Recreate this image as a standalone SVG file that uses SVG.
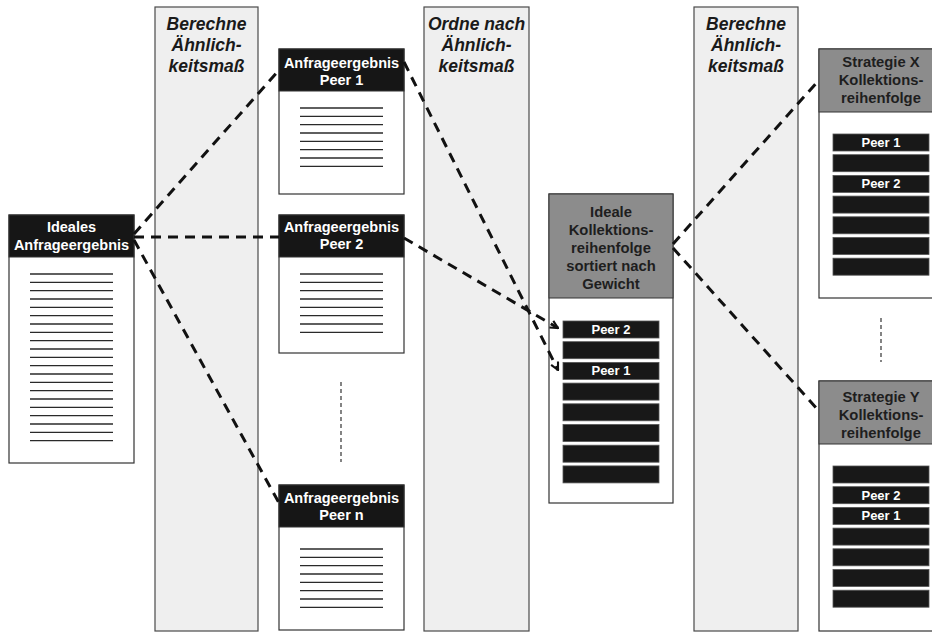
<svg xmlns="http://www.w3.org/2000/svg" width="932" height="633" viewBox="0 0 932 633">
<style>
.col{fill:#efefef;stroke:#4a4a4a;stroke-width:1.2}
.coltxt{font-family:"Liberation Sans",Arial,sans-serif;font-weight:bold;font-style:italic;font-size:17.5px;fill:#1a1a1a;text-anchor:middle}
.box{fill:#fff;stroke:#333;stroke-width:1.2}
.hdr{fill:#161616;stroke:#333;stroke-width:1}
.ghdr{fill:#8c8c8c;stroke:#333;stroke-width:1}
.htxt{font-family:"Liberation Sans",Arial,sans-serif;font-weight:bold;font-size:14.5px;fill:#fff;text-anchor:middle}
.gtxt{font-family:"Liberation Sans",Arial,sans-serif;font-weight:bold;font-size:14.8px;fill:#1e1e1e;text-anchor:middle}
.ln{stroke:#2a2a2a;stroke-width:1.3}
.bar{fill:#181818;stroke:#555;stroke-width:0.8}
.btxt{font-family:"Liberation Sans",Arial,sans-serif;font-weight:bold;font-size:13px;fill:#fff;text-anchor:middle}
.conn{fill:none;stroke:#111;stroke-width:3;stroke-dasharray:10 7}
.dot{stroke:#333;stroke-width:1.2;stroke-dasharray:4 3}
</style>
<defs>
<marker id="arr" viewBox="0 0 10 10" refX="9" refY="5" markerWidth="3.2" markerHeight="3.2" orient="auto" markerUnits="strokeWidth">
<path d="M1,1 L9,5 L1,9" fill="none" stroke="#111" stroke-width="2.2"/>
</marker>
<g id="lines8">
<line class="ln" x1="0" y1="0" x2="83" y2="0"/>
<line class="ln" x1="0" y1="8.33" x2="83" y2="8.33"/>
<line class="ln" x1="0" y1="16.67" x2="83" y2="16.67"/>
<line class="ln" x1="0" y1="25" x2="83" y2="25"/>
<line class="ln" x1="0" y1="33.33" x2="83" y2="33.33"/>
<line class="ln" x1="0" y1="41.67" x2="83" y2="41.67"/>
<line class="ln" x1="0" y1="50" x2="83" y2="50"/>
<line class="ln" x1="0" y1="58.33" x2="83" y2="58.33"/>
</g>
</defs>
<rect width="932" height="633" fill="#fff"/>

<g id="col1">
<rect class="col" x="155" y="7" width="103" height="624"/>
<text class="coltxt" x="206.5" y="30">Berechne</text>
<text class="coltxt" x="206.5" y="51">Ähnlich-</text>
<text class="coltxt" x="206.5" y="72">keitsmaß</text>
</g>
<g id="col2">
<rect class="col" x="424" y="7" width="105" height="624"/>
<text class="coltxt" x="476.5" y="30">Ordne nach</text>
<text class="coltxt" x="476.5" y="51">Ähnlich-</text>
<text class="coltxt" x="476.5" y="72">keitsmaß</text>
</g>
<g id="col3">
<rect class="col" x="694" y="7" width="104" height="624"/>
<text class="coltxt" x="746" y="30">Berechne</text>
<text class="coltxt" x="746" y="51">Ähnlich-</text>
<text class="coltxt" x="746" y="72">keitsmaß</text>
</g>

<g id="ideal">
<rect class="box" x="9" y="215" width="125" height="248"/>
<rect class="hdr" x="9" y="215" width="125" height="42"/>
<text class="htxt" x="71.5" y="232">Ideales</text>
<text class="htxt" x="71.5" y="250">Anfrageergebnis</text>
<g class="ln">
<line x1="30" y1="274" x2="113" y2="274"/><line x1="30" y1="282.33" x2="113" y2="282.33"/>
<line x1="30" y1="290.67" x2="113" y2="290.67"/><line x1="30" y1="299" x2="113" y2="299"/>
<line x1="30" y1="307.33" x2="113" y2="307.33"/><line x1="30" y1="315.67" x2="113" y2="315.67"/>
<line x1="30" y1="324" x2="113" y2="324"/><line x1="30" y1="332.33" x2="113" y2="332.33"/>
<line x1="30" y1="340.67" x2="113" y2="340.67"/><line x1="30" y1="349" x2="113" y2="349"/>
<line x1="30" y1="357.33" x2="113" y2="357.33"/><line x1="30" y1="365.67" x2="113" y2="365.67"/>
<line x1="30" y1="374" x2="113" y2="374"/><line x1="30" y1="382.33" x2="113" y2="382.33"/>
<line x1="30" y1="390.67" x2="113" y2="390.67"/><line x1="30" y1="399" x2="113" y2="399"/>
<line x1="30" y1="407.33" x2="113" y2="407.33"/><line x1="30" y1="415.67" x2="113" y2="415.67"/>
<line x1="30" y1="424" x2="113" y2="424"/><line x1="30" y1="432.33" x2="113" y2="432.33"/>
<line x1="30" y1="440.67" x2="113" y2="440.67"/>
</g>
</g>

<g id="peer1">
<rect class="box" x="279" y="49" width="125" height="145"/>
<rect class="hdr" x="279" y="49" width="125" height="42"/>
<text class="htxt" x="341.5" y="68">Anfrageergebnis</text>
<text class="htxt" x="341.5" y="85">Peer 1</text>
<use href="#lines8" x="300" y="108"/>
</g>
<g id="peer2">
<rect class="box" x="279" y="215" width="125" height="138"/>
<rect class="hdr" x="279" y="215" width="125" height="42"/>
<text class="htxt" x="341.5" y="232">Anfrageergebnis</text>
<text class="htxt" x="341.5" y="249">Peer 2</text>
<use href="#lines8" x="300" y="274"/>
</g>
<g id="peern">
<rect class="box" x="279" y="485" width="125" height="145"/>
<rect class="hdr" x="279" y="485" width="125" height="42"/>
<text class="htxt" x="341.5" y="503">Anfrageergebnis</text>
<text class="htxt" x="341.5" y="520">Peer n</text>
<use href="#lines8" x="300" y="549"/>
</g>

<g id="ideal_order">
<rect class="box" x="549" y="194" width="124" height="309"/>
<rect class="ghdr" x="549" y="194" width="124" height="104"/>
<text class="gtxt" x="611" y="217">Ideale</text>
<text class="gtxt" x="611" y="235">Kollektions-</text>
<text class="gtxt" x="611" y="253">reihenfolge</text>
<text class="gtxt" x="611" y="271">sortiert nach</text>
<text class="gtxt" x="611" y="289">Gewicht</text>
<rect class="bar" x="563" y="321" width="96" height="17"/>
<rect class="bar" x="563" y="341.7" width="96" height="17"/>
<rect class="bar" x="563" y="362.4" width="96" height="17"/>
<rect class="bar" x="563" y="383.1" width="96" height="17"/>
<rect class="bar" x="563" y="403.8" width="96" height="17"/>
<rect class="bar" x="563" y="424.5" width="96" height="17"/>
<rect class="bar" x="563" y="445.2" width="96" height="17"/>
<rect class="bar" x="563" y="465.9" width="96" height="17"/>
<text class="btxt" x="611" y="334">Peer 2</text>
<text class="btxt" x="611" y="375.4">Peer 1</text>
</g>

<g id="strategyX">
<rect class="box" x="819" y="49" width="124" height="249"/>
<rect class="ghdr" x="819" y="49" width="124" height="63"/>
<text class="gtxt" x="881" y="67">Strategie X</text>
<text class="gtxt" x="881" y="85">Kollektions-</text>
<text class="gtxt" x="881" y="103">reihenfolge</text>
<rect class="bar" x="833" y="134" width="96" height="17"/>
<rect class="bar" x="833" y="154.7" width="96" height="17"/>
<rect class="bar" x="833" y="175.4" width="96" height="17"/>
<rect class="bar" x="833" y="196.1" width="96" height="17"/>
<rect class="bar" x="833" y="216.8" width="96" height="17"/>
<rect class="bar" x="833" y="237.5" width="96" height="17"/>
<rect class="bar" x="833" y="258.2" width="96" height="17"/>
<text class="btxt" x="881" y="147">Peer 1</text>
<text class="btxt" x="881" y="188.4">Peer 2</text>
</g>

<g id="strategyY">
<rect class="box" x="819" y="381" width="124" height="250"/>
<rect class="ghdr" x="819" y="381" width="124" height="63"/>
<text class="gtxt" x="881" y="402">Strategie Y</text>
<text class="gtxt" x="881" y="420">Kollektions-</text>
<text class="gtxt" x="881" y="438">reihenfolge</text>
<rect class="bar" x="833" y="466" width="96" height="17"/>
<rect class="bar" x="833" y="486.7" width="96" height="17"/>
<rect class="bar" x="833" y="507.4" width="96" height="17"/>
<rect class="bar" x="833" y="528.1" width="96" height="17"/>
<rect class="bar" x="833" y="548.8" width="96" height="17"/>
<rect class="bar" x="833" y="569.5" width="96" height="17"/>
<rect class="bar" x="833" y="590.2" width="96" height="17"/>
<text class="btxt" x="881" y="499.7">Peer 2</text>
<text class="btxt" x="881" y="520.4">Peer 1</text>
</g>

<g id="connectors">
<line class="conn" x1="134" y1="234" x2="279" y2="70"/>
<line class="conn" x1="134" y1="237" x2="279" y2="237"/>
<line class="conn" x1="134" y1="240" x2="279" y2="503"/>
<line class="conn" x1="404" y1="62" x2="558" y2="370" marker-end="url(#arr)"/>
<line class="conn" x1="404" y1="238" x2="558" y2="328" marker-end="url(#arr)"/>
<line class="conn" x1="673" y1="244" x2="819" y2="80"/>
<line class="conn" x1="673" y1="248" x2="819" y2="411"/>
<line class="dot" x1="341" y1="382" x2="341" y2="462"/>
<line class="dot" x1="881" y1="318" x2="881" y2="362"/>
</g>
</svg>
